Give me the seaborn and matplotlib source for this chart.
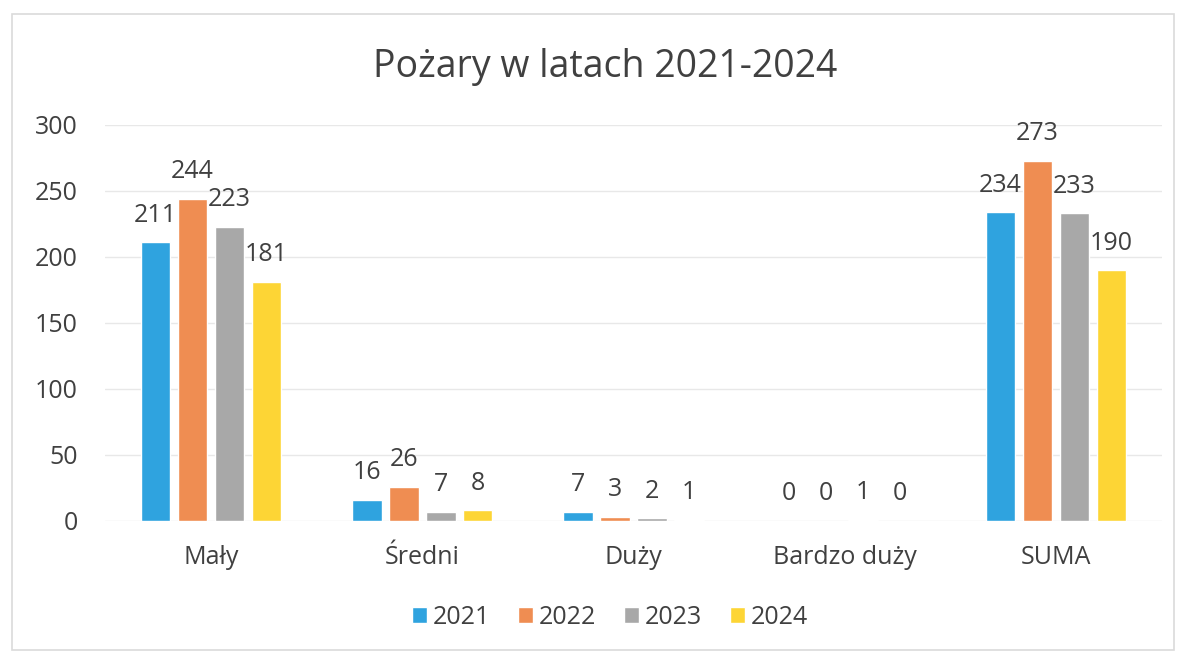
import matplotlib.pyplot as plt
import matplotlib.patches as patches
import numpy as np
import pandas as pd
import seaborn as sns

categories = ['Mały', 'Średni', 'Duży', 'Bardzo duży', 'SUMA']
years = ['2021', '2022', '2023', '2024']
v2021 = [211, 16, 7, 0, 234]
v2022 = [244, 26, 3, 0, 273]
v2023 = [223, 7, 2, 1, 233]
v2024 = [181, 8, 1, 0, 190]
colors = ['#2FA3DF', '#EF8D52', '#A8A8A8', '#FDD535']

TEXT = '#404040'
FONT = 'Open Sans'
FS = 18

df = pd.DataFrame({
    'kategoria': categories * 4,
    'rok': np.repeat(years, len(categories)),
    'liczba': v2021 + v2022 + v2023 + v2024,
})

sns.set_style('white')
plt.rcParams['font.family'] = [FONT, 'DejaVu Sans']

fig = plt.figure(figsize=(11.86, 6.53), dpi=100)
ax = fig.add_axes([105.4 / 1186, 132 / 653, (1161.6 - 105.4) / 1186, 396 / 653])

sns.barplot(data=df, x='kategoria', y='liczba', hue='rok', palette=colors,
            width=0.7, gap=0.2, ax=ax, legend=True, saturation=1)

for cont in ax.containers:
    for bar in cont:
        h = bar.get_height()
        ax.annotate(f'{int(h)}', (bar.get_x() + bar.get_width() / 2, h),
                    xytext=(0, 19.5), textcoords='offset points',
                    ha='center', va='center', fontsize=FS, color=TEXT,
                    annotation_clip=False)

ax.set_ylim(0, 300)
ax.set_xlim(-0.5, 4.5)
ax.set_yticks(range(0, 301, 50))
ax.yaxis.grid(True, color='#E8E8E8', lw=1)
ax.set_axisbelow(True)
for s in ax.spines.values():
    s.set_visible(False)
ax.set_xlabel('')
ax.set_ylabel('')
ax.tick_params(axis='y', length=0, pad=20, labelsize=FS, labelcolor=TEXT)
ax.tick_params(axis='x', length=0, pad=17, labelsize=FS, labelcolor=TEXT)

handles, labels = ax.get_legend_handles_labels()
ax.get_legend().remove()
fig.legend(handles, labels, loc='center', bbox_to_anchor=(610 / 1186, 1 - 617 / 653),
           ncol=4, frameon=False, fontsize=FS, handlelength=0.6, handleheight=0.6,
           handletextpad=0.25, columnspacing=1.1, labelcolor=TEXT)

fig.text(605 / 1186, 1 - 67 / 653, 'Pożary w latach 2021-2024', ha='center', va='center',
         fontsize=27, color=TEXT)

fig.patches.append(patches.Rectangle((12 / 1186, 3 / 653), 1162 / 1186, 636 / 653,
                                     transform=fig.transFigure, fill=False,
                                     edgecolor='#DADADA', lw=1.2))

fig.savefig('out.png', dpi=100)
